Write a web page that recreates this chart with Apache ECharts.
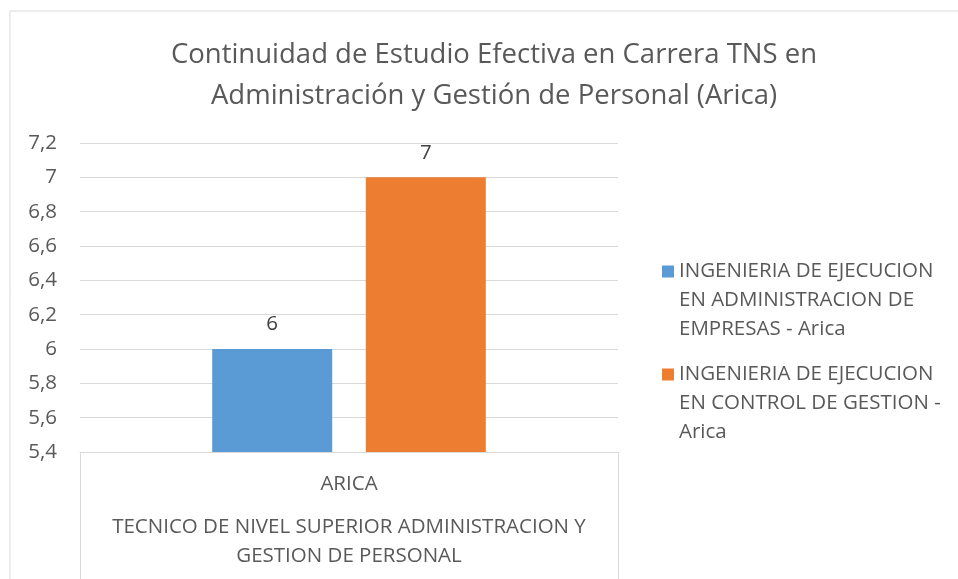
<!DOCTYPE html>
<html><head><meta charset="utf-8">
<script src="https://cdn.jsdelivr.net/npm/echarts@6/dist/echarts.min.js"></script>
<style>html,body{margin:0;padding:0;background:#fff}#c{width:958px;height:579px}</style>
</head><body><div id="c"></div>
<script>
const categories = ['ARICA'];
const groupLabel = 'TECNICO DE NIVEL SUPERIOR ADMINISTRACION Y\nGESTION DE PERSONAL';
const seriesNames = ['INGENIERIA DE EJECUCION\nEN ADMINISTRACION DE\nEMPRESAS - Arica', 'INGENIERIA DE EJECUCION\nEN CONTROL DE GESTION -\nArica'];
const seriesA = [6];
const seriesB = [7];
const colors = ['#5B9BD5', '#ED7D31'];
const FONT = 'Open Sans';
const FS = 20.5;
const chart = echarts.init(document.getElementById('c'));
chart.setOption({
  animation: false,
  textStyle: {fontFamily: FONT},
  title: {
    text: 'Continuidad de Estudio Efectiva en Carrera TNS en\nAdministración y Gestión de Personal (Arica)',
    top: 30, left: 489, textAlign: 'center',
    textStyle: {fontFamily: FONT, fontSize: 27.5, fontWeight: 'normal', color: '#595959', lineHeight: 41}
  },
  graphic: [{type: 'rect', shape: {x: 10, y: 11, width: 1000, height: 700}, style: {fill: 'none', stroke: '#d9d9d9', lineWidth: 1}, silent: true}],
  legend: {
    orient: 'vertical', left: 657, top: 252, itemWidth: 12, itemHeight: 87, itemGap: 16,
    icon: 'path://M0,0L0.01,0L0.01,0.01Z M0,8.5L12,8.5L12,20.5L0,20.5Z M0,86.99L0.01,86.99L0.01,87Z',
    textStyle: {fontFamily: FONT, fontSize: FS, color: '#595959', lineHeight: 29},
    data: seriesNames
  },
  grid: {left: 80, right: 340, top: 143, bottom: 127, containLabel: false},
  xAxis: {
    type: 'category', data: categories,
    axisLine: {show: true, lineStyle: {color: '#d9d9d9'}},
    axisTick: {show: true, length: 130, lineStyle: {color: '#d9d9d9'}},
    axisLabel: {fontFamily: FONT, fontSize: FS, color: '#595959', margin: 22},
    name: groupLabel, nameLocation: 'middle', nameGap: 61,
    nameTextStyle: {fontFamily: FONT, fontSize: FS, color: '#595959', lineHeight: 29, verticalAlign: 'top'}
  },
  yAxis: {
    type: 'value', min: 5.4, max: 7.2, interval: 0.2,
    axisLine: {show: false}, axisTick: {show: false},
    splitLine: {lineStyle: {color: '#d9d9d9'}},
    axisLabel: {fontFamily: FONT, fontSize: FS, color: '#595959', margin: 23,
      formatter: v => String(Math.round(v * 10) / 10).replace('.', ',')}
  },
  series: [
    {name: seriesNames[0], type: 'bar', data: seriesA, barWidth: 120, barGap: '28%', itemStyle: {color: colors[0]},
     label: {show: true, position: 'top', distance: 14, fontFamily: FONT, fontSize: FS, color: '#404040'}},
    {name: seriesNames[1], type: 'bar', data: seriesB, barWidth: 120, barGap: '28%', itemStyle: {color: colors[1]},
     label: {show: true, position: 'top', distance: 14, fontFamily: FONT, fontSize: FS, color: '#404040'}}
  ]
});
</script></body></html>
